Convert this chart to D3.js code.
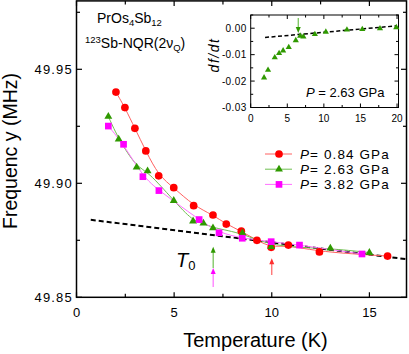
<!DOCTYPE html>
<html>
<head>
<meta charset="utf-8">
<style>
  body { margin: 0; background: #fff; }
  svg text { font-family: Arial, "Liberation Sans", sans-serif; fill: #000; }
  .tick-lbl { font-size: 13px; }
  .inset-lbl { font-size: 10px; }
</style>
</head>
<body>
<div id="chart"></div>
<script src="https://d3js.org/d3.v7.min.js"></script>
<script>
// main panel data: temperature (K) and frequency (MHz)
const red_T = [2.02, 2.48, 2.99, 3.55, 4.21, 4.98, 6.0, 6.99, 7.67, 8.44, 9.24, 9.97, 10.85, 12.44, 15.93];
const red_f = [49.9400, 49.9332, 49.9241, 49.9142, 49.9033, 49.8981, 49.8902, 49.8861, 49.8821, 49.8790, 49.8750, 49.8719, 49.8729, 49.8699, 49.8681];
const green_T = [1.63, 2.16, 3.08, 3.64, 4.98, 5.97, 6.5, 6.99, 8.5, 9.97, 13.0, 15.0];
const green_f = [49.9293, 49.9193, 49.9070, 49.9054, 49.8924, 49.8834, 49.8825, 49.8804, 49.8782, 49.8722, 49.8715, 49.8696];
const pink_T = [1.63, 2.41, 3.4, 4.22, 6.28, 7.3, 8.49, 9.97, 11.42, 14.62];
const pink_f = [49.9251, 49.9171, 49.9029, 49.8968, 49.8841, 49.8783, 49.8759, 49.8744, 49.8729, 49.8690];
const dash_T = [0.73, 16.9];
const dash_f = [49.8840, 49.8667];
const arrowT = [7.0, 7.0, 10.0];   // green, pink, red arrows

// inset: df/dt for P = 2.63 GPa
const in_T = [1.83, 2.37, 3.29, 3.88, 4.43, 5.2, 6.16, 6.76, 7.2, 8.77, 10.27, 13.15, 15.25, 17.67, 19.9];
const in_d = [-0.0187, -0.0158, -0.0111, -0.0095, -0.0085, -0.0072, -0.0046, -0.0029, -0.0032, -0.0023, -0.0014, -0.0006, -0.0004, -0.0001, 0.0003];
const in_dash_T = [1.96, 20];
const in_dash_d = [-0.0035, 0.0009];

const xTicks = [0, 5, 10, 15];
const yTicks = [49.85, 49.90, 49.95];
const inXTicks = [0, 5, 10, 15, 20];
const inYTicks = [-0.03, -0.02, -0.01, 0.00];

const legendLabels = ["= 0.84 GPa", "= 2.63 GPa", "= 3.82 GPa"];

const W = 409, H = 354;
const svg = d3.select("#chart").append("svg").attr("width", W).attr("height", H);

const x = d3.scaleLinear().domain([0, 16.9]).range([76.5, 406.5]);
const y = d3.scaleLinear().domain([49.85, 49.98]).range([297.3, 0.9]);

const series = [
  {T: red_T, f: red_f, mk: "#ff0000", ln: "#ff6060", shape: "circle"},
  {T: green_T, f: green_f, mk: "#2f9900", ln: "#6fbf50", shape: "triangle"},
  {T: pink_T, f: pink_f, mk: "#ff00ff", ln: "#ff70ff", shape: "square"}
];

function marker(g, shape, color, s) {
  if (shape === "circle") {
    g.append("circle").attr("r", s * 0.55).attr("fill", color);
  } else if (shape === "triangle") {
    g.append("path").attr("d", d3.symbol(d3.symbolTriangle, s * s * 0.55)()).attr("fill", color);
  } else {
    g.append("rect").attr("x", -s / 2.1).attr("y", -s / 2.1).attr("width", s / 1.05).attr("height", s / 1.05).attr("fill", color);
  }
}

// main dashed line
svg.append("path")
  .attr("d", d3.line()(dash_T.map((t, i) => [x(t), y(dash_f[i])])))
  .attr("stroke", "#000").attr("stroke-width", 2).attr("stroke-dasharray", "5,3").attr("fill", "none");

// series lines (smoothed) and markers
series.forEach(s => {
  const pts = s.T.map((t, i) => [x(t), y(s.f[i])]);
  svg.append("path").attr("d", d3.line().curve(d3.curveBasis)(pts))
    .attr("stroke", s.ln).attr("stroke-width", 1).attr("fill", "none");
});
series.forEach(s => {
  s.T.forEach((t, i) => {
    const g = svg.append("g").attr("transform", `translate(${x(t)},${y(s.f[i])})`);
    marker(g, s.shape, s.mk, 7);
  });
});

// arrows
const arrowDefs = [
  {T: arrowT[0], tip: 246.7, end: 268, c: "#2f9900", lc: "#6fbf50"},
  {T: arrowT[1], tip: 268, end: 287, c: "#ff00ff", lc: "#ff70ff"},
  {T: arrowT[2], tip: 258.3, end: 275, c: "#ff3030", lc: "#ff6060"}
];
arrowDefs.forEach(a => {
  const ax = x(a.T);
  svg.append("line").attr("x1", ax).attr("x2", ax).attr("y1", a.tip + 4).attr("y2", a.end)
    .attr("stroke", a.lc).attr("stroke-width", 1.2);
  svg.append("path").attr("d", `M${ax},${a.tip} L${ax - 2.5},${a.tip + 6} L${ax + 2.5},${a.tip + 6} Z`).attr("fill", a.c);
});

// frame + ticks
const frame = svg.append("g");
frame.append("rect").attr("x", x(0)).attr("y", y(49.98)).attr("width", x(16.9) - x(0)).attr("height", y(49.85) - y(49.98))
  .attr("fill", "none").attr("stroke", "#000").attr("stroke-width", 1.5);
d3.range(0, 16.9, 2.5).forEach(v => {
  const major = Math.abs(v % 5) < 1e-6;
  const len = major ? 5 : 3.5;
  frame.append("line").attr("x1", x(v)).attr("x2", x(v)).attr("y1", y(49.85)).attr("y2", y(49.85) - len).attr("stroke", "#000").attr("stroke-width", 1.2);
  frame.append("line").attr("x1", x(v)).attr("x2", x(v)).attr("y1", y(49.98)).attr("y2", y(49.98) + len).attr("stroke", "#000").attr("stroke-width", 1.2);
});
[49.85, 49.875, 49.90, 49.925, 49.95, 49.975].forEach(v => {
  const major = yTicks.some(t => Math.abs(t - v) < 1e-6);
  const len = major ? 5.5 : 3.5;
  frame.append("line").attr("x1", x(0)).attr("x2", x(0) + len).attr("y1", y(v)).attr("y2", y(v)).attr("stroke", "#000").attr("stroke-width", 1.2);
  frame.append("line").attr("x1", x(16.9)).attr("x2", x(16.9) - len).attr("y1", y(v)).attr("y2", y(v)).attr("stroke", "#000").attr("stroke-width", 1.2);
});
xTicks.forEach(v => {
  svg.append("text").attr("class", "tick-lbl").attr("x", x(v)).attr("y", 316.7).attr("text-anchor", "middle").text(v);
});
yTicks.forEach(v => {
  svg.append("text").attr("class", "tick-lbl").attr("x", 73).attr("y", y(v) + 4.6).attr("text-anchor", "end")
    .style("letter-spacing", "1.2px").text(v.toFixed(2));
});

// axis titles
svg.append("text").attr("x", (181 + 330) / 2).attr("y", 346.5).attr("text-anchor", "middle")
  .style("font-size", "20px").text("Temperature (K)");
svg.append("text").attr("transform", "translate(16.5,151) rotate(-90)").attr("text-anchor", "middle")
  .style("font-size", "19.5px").text("Frequenc y (MHz)");

// sample labels
const t1 = svg.append("text").attr("x", 97).attr("y", 23.3).style("font-size", "14px");
t1.append("tspan").text("PrOs");
t1.append("tspan").attr("dy", 3).style("font-size", "9.5px").text("4");
t1.append("tspan").attr("dy", -3).text("Sb");
t1.append("tspan").attr("dy", 3).style("font-size", "9.5px").text("12");
const t2 = svg.append("text").attr("x", 85).attr("y", 48.3).style("font-size", "14px");
t2.append("tspan").attr("dy", -5).style("font-size", "9.5px").text("123");
t2.append("tspan").attr("dy", 5).text("Sb-NQR(2ν");
t2.append("tspan").attr("dy", 3).style("font-size", "9.5px").text("Q");
t2.append("tspan").attr("dy", -3).text(")");

// T0
const t0 = svg.append("text").attr("x", 176).attr("y", 266.7).style("font-size", "20px");
t0.append("tspan").style("font-style", "italic").text("T");
t0.append("tspan").attr("dy", 3).style("font-size", "13px").text("0");

// legend
series.forEach((s, i) => {
  const ly = 154 + i * 15.2;
  svg.append("line").attr("x1", 265).attr("x2", 292).attr("y1", ly).attr("y2", ly).attr("stroke", s.ln).attr("stroke-width", 1);
  const g = svg.append("g").attr("transform", `translate(279,${ly})`);
  marker(g, s.shape, s.mk, 7);
  const tx = svg.append("text").attr("x", 300).attr("y", ly + 5).style("font-size", "13.5px").style("letter-spacing", "1.1px");
  tx.append("tspan").style("font-style", "italic").text("P");
  tx.append("tspan").text(legendLabels[i]);
});

// inset
const ix = d3.scaleLinear().domain([0, 20.2]).range([250.7, 398.5]);
const iy = d3.scaleLinear().domain([-0.03, 0.005]).range([107.5, 15]);
const inset = svg.append("g");
inset.append("rect").attr("x", ix(0)).attr("y", iy(0.005)).attr("width", ix(20.2) - ix(0)).attr("height", iy(-0.03) - iy(0.005))
  .attr("fill", "#fff").attr("stroke", "#000").attr("stroke-width", 1);
d3.range(0, 20.2, 2.5).forEach(v => {
  const major = Math.abs(v % 5) < 1e-6;
  const len = major ? 4 : 2.5;
  inset.append("line").attr("x1", ix(v)).attr("x2", ix(v)).attr("y1", iy(-0.03)).attr("y2", iy(-0.03) - len).attr("stroke", "#000");
  inset.append("line").attr("x1", ix(v)).attr("x2", ix(v)).attr("y1", iy(0.005)).attr("y2", iy(0.005) + len).attr("stroke", "#000");
});
d3.range(-0.03, 0.0051, 0.005).forEach(v => {
  const major = inYTicks.some(t => Math.abs(t - v) < 1e-6);
  const len = major ? 4 : 2.5;
  inset.append("line").attr("x1", ix(0)).attr("x2", ix(0) + len).attr("y1", iy(v)).attr("y2", iy(v)).attr("stroke", "#000");
  inset.append("line").attr("x1", ix(20.2)).attr("x2", ix(20.2) - len).attr("y1", iy(v)).attr("y2", iy(v)).attr("stroke", "#000");
});
inXTicks.forEach(v => {
  inset.append("text").attr("class", "inset-lbl").attr("x", ix(v)).attr("y", 121.5).attr("text-anchor", "middle").text(v);
});
inYTicks.forEach(v => {
  inset.append("text").attr("class", "inset-lbl").attr("x", 246.7).attr("y", iy(v) + 3.6).attr("text-anchor", "end")
    .style("letter-spacing", "0.4px").text(v.toFixed(2));
});
inset.append("text").attr("transform", "translate(219,55) rotate(-90)").attr("text-anchor", "middle")
  .style("font-size", "14px").style("font-style", "italic").style("letter-spacing", "1.5px").text("df/dt");
inset.append("path")
  .attr("d", d3.line()(in_dash_T.map((t, i) => [ix(t), iy(in_dash_d[i])])))
  .attr("stroke", "#000").attr("stroke-width", 1.5).attr("stroke-dasharray", "4,2.5").attr("fill", "none");
in_T.forEach((t, i) => {
  const g = inset.append("g").attr("transform", `translate(${ix(t)},${iy(in_d[i])})`);
  marker(g, "triangle", "#2f9900", 5.5);
});
// inset arrow at T0
const iax = ix(6.5);
inset.append("line").attr("x1", iax).attr("x2", iax).attr("y1", 18).attr("y2", 28).attr("stroke", "#6fbf50").attr("stroke-width", 1.2);
inset.append("path").attr("d", `M${iax},${33} L${iax - 2.5},${27} L${iax + 2.5},${27} Z`).attr("fill", "#2f9900");
const ip = inset.append("text").attr("x", 306).attr("y", 96.7).style("font-size", "13px");
ip.append("tspan").style("font-style", "italic").text("P");
ip.append("tspan").text(" = 2.63 GPa");
</script>
</body>
</html>
